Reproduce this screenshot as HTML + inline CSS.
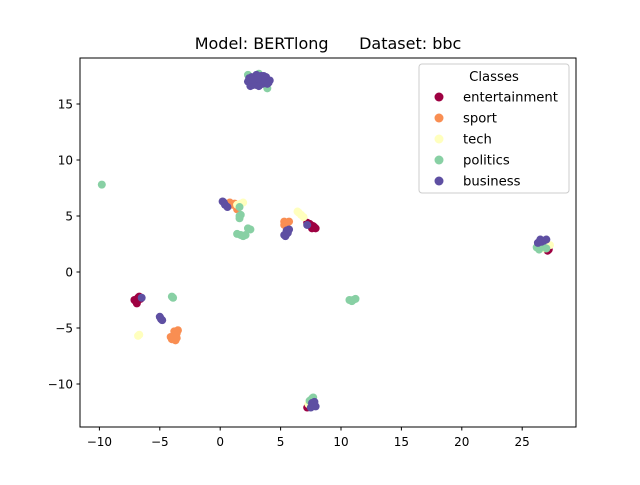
<!DOCTYPE html>
<html><head><meta charset="utf-8"><style>
body{margin:0;background:#fff}
svg text{font-family:"DejaVu Sans","Liberation Sans",sans-serif}
</style></head><body>
<svg id="chart" width="640" height="480" viewBox="0 0 640 480" xmlns="http://www.w3.org/2000/svg">
<rect width="640" height="480" fill="#fff"/>
<text x="328" y="49" font-size="16" text-anchor="middle" style="white-space:pre">Model: BERTlong      Dataset: bbc</text>
<g id="marks"></g>
<rect x="80" y="58" width="496" height="369" fill="none" stroke="#000" stroke-width="1"/>
<g id="axes"></g>
<g>
<rect x="419" y="64" width="150" height="129" rx="3" fill="#fff" fill-opacity="0.8" stroke="#ccc"/>
<text x="494" y="81" font-size="13.2" text-anchor="middle">Classes</text>
<g id="legend-entries"></g>
</g>
</svg>
<script>
const classes=["entertainment","sport","tech","politics","business"];
const colors=["#9e0142","#f98e52","#ffffbe","#88d0a4","#5e4fa2"];
const xTicks=[-10,-5,0,5,10,15,20,25];
const yTicks=[-10,-5,0,5,10,15];
const entX=[7.2,7.4,7.5,7.7,7.8,7.9,7.6,-7,-6.8,-6.9,-6.6,-7.1,-6.7,-6.9,27.2,27.0,27.1,7.2,7.3];
const entY=[4.4,4.3,4.2,4.1,4.0,3.9,3.9,-2.6,-2.3,-2.7,-2.4,-2.5,-2.2,-2.8,2.0,2.3,1.9,-12.1,-11.9];
const spX=[0.8,1.0,1.2,1.5,1.4,5.3,5.5,5.7,5.3,-3.8,-3.6,-3.9,-3.7,-3.5,-4.0,-3.8,-3.6,-4.1];
const spY=[6.2,6.0,6.1,5.8,5.6,4.5,4.3,4.5,4.2,-5.3,-5.5,-5.8,-6.1,-5.2,-6.0,-5.6,-5.9,-5.8];
const teX=[1.4,1.7,1.9,6.5,6.7,6.4,6.9,-6.8,-6.7,26.5,27.0,27.3,26.8,7.3];
const teY=[6.0,6.1,6.2,5.3,5.1,5.4,4.9,-5.7,-5.6,2.3,2.3,2.4,2.1,-11.8];
const poX=[3.9,3.2,2.3,-9.8,1.6,1.6,1.6,1.7,2.3,2.5,1.4,1.9,2.1,1.7,10.7,10.9,11.0,11.2,-4.0,-3.9,26.4,27.0,26.7,26.2,7.6,7.4,7.7];
const poY=[16.4,17.7,17.6,7.8,5.8,5.0,4.8,5.1,3.9,3.8,3.4,3.2,3.3,3.3,-2.5,-2.6,-2.5,-2.4,-2.2,-2.3,2.0,2.1,2.4,2.2,-11.3,-11.5,-11.2];
const buX=[2.3,2.6,3.0,3.4,3.8,4.1,2.5,3.0,3.5,3.9,2.8,3.3,3.7,2.4,4.0,2.7,3.6,3.1,2.6,3.2,0.2,0.4,0.6,0.3,5.5,5.7,5.4,5.6,5.5,5.3,7.2,-5.0,-4.8,-4.9,-6.5,26.5,26.8,26.3,27.0,26.6,7.6,7.9,7.5,7.8,7.7];
const buY=[17.0,17.4,17.6,17.5,17.4,17.1,16.6,16.7,16.8,16.8,17.1,17.1,17.0,17.3,16.9,16.7,17.5,17.3,17.2,16.6,6.3,6.0,5.8,6.2,3.4,3.8,3.2,3.5,3.7,3.3,4.2,-4.0,-4.3,-4.2,-2.3,2.9,2.8,2.6,2.9,2.7,-11.7,-12.0,-12.1,-11.6,-11.9];
const seriesX=[entX,spX,teX,poX,buX];
const seriesY=[entY,spY,teY,poY,buY];
const NS="http://www.w3.org/2000/svg";
const sx=v=>220.2+v*12.08;
const sy=v=>272-v*11.2;
const marks=document.getElementById('marks');
seriesX.forEach((xs,k)=>{xs.forEach((x,i)=>{
 const c=document.createElementNS(NS,'circle');
 c.setAttribute('cx',sx(x));c.setAttribute('cy',sy(seriesY[k][i]));c.setAttribute('r',4);c.setAttribute('fill',colors[k]);
 
 
 marks.appendChild(c);});});
const axes=document.getElementById('axes');
xTicks.forEach(t=>{const X=sx(t);
 const l=document.createElementNS(NS,'line');l.setAttribute('x1',X);l.setAttribute('x2',X);l.setAttribute('y1',427);l.setAttribute('y2',430.5);l.setAttribute('stroke','#000');
 
 
 axes.appendChild(l);
 const s=document.createElementNS(NS,'text');s.setAttribute('x',X);s.setAttribute('y',446);s.setAttribute('font-size','12');s.setAttribute('text-anchor','middle');s.textContent=t<0?'\u2212'+(-t):t;
 
 
 axes.appendChild(s);});
yTicks.forEach(t=>{const Y=sy(t);
 const l=document.createElementNS(NS,'line');l.setAttribute('x1',76.5);l.setAttribute('x2',80);l.setAttribute('y1',Y);l.setAttribute('y2',Y);l.setAttribute('stroke','#000');
 
 
 axes.appendChild(l);
 const s=document.createElementNS(NS,'text');s.setAttribute('x',73);s.setAttribute('y',Y+4.3);s.setAttribute('font-size','12');s.setAttribute('text-anchor','end');s.textContent=t<0?'\u2212'+(-t):t;
 
 
 axes.appendChild(s);});
const lg=document.getElementById('legend-entries');
classes.forEach((c,i)=>{const Y=97+i*21;
 const g=document.createElementNS(NS,'g');
 
 
 g.innerHTML=`<circle cx="439" cy="${Y}" r="4.5" fill="${colors[i]}"/><text x="463" y="${Y+4.5}" font-size="13.2">${c}</text>`;
 lg.appendChild(g);});
</script>
</body></html>
